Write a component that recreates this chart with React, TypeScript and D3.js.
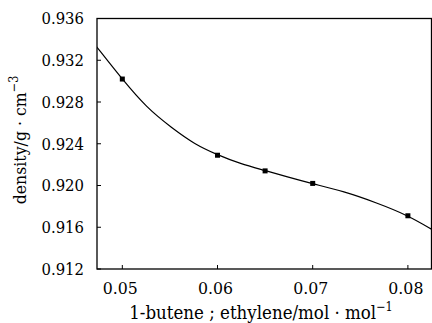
import React from "react";
import * as d3 from "d3";

const markerX = [0.05, 0.06, 0.065, 0.07, 0.08];
const markerY = [0.9302, 0.9229, 0.9214, 0.9202, 0.9171];

const curveX = [0.0473, 0.05, 0.05256, 0.05518, 0.05763, 0.06, 0.06239, 0.065, 0.06728, 0.07, 0.07323, 0.07674, 0.08, 0.0826];
const curveY = [0.93329, 0.93016, 0.92744, 0.92553, 0.92393, 0.92294, 0.92208, 0.92144, 0.92083, 0.92016, 0.91945, 0.91834, 0.91714, 0.91575];

const xTicks = [0.05, 0.06, 0.07, 0.08];
const yTicks = [0.912, 0.916, 0.92, 0.924, 0.928, 0.932, 0.936];

const W = 432, H = 323;
const left = 97, right = 431.5, top = 18.5, bottom = 269;
const FONT = "DejaVu Serif Condensed, DejaVu Serif, serif";

export default function App() {
  const x = d3.scaleLinear().domain([0.04734, 0.08248]).range([left, right]);
  const y = d3.scaleLinear().domain([0.912, 0.936]).range([bottom, top]);
  const line = d3.line<number>().x((d, i) => x(curveX[i])).y((d, i) => y(curveY[i])).curve(d3.curveBasis);
  return (
    <svg width={W} height={H} style={{ position: "absolute", left: 0, top: 0, background: "#fff" }} fontFamily={FONT}>
      <defs>
        <clipPath id="plot">
          <rect x={left} y={top} width={right - left} height={bottom - top} />
        </clipPath>
      </defs>
      <rect x={left} y={top} width={right - left} height={bottom - top} fill="none" stroke="#000" strokeWidth={1.3} />
      {yTicks.map((t) => (
        <g key={"y" + t}>
          <line x1={left} x2={left + 4} y1={y(t)} y2={y(t)} stroke="#000" strokeWidth={1} />
          <text x={84} y={y(t)} dy="0.36em" textAnchor="end" fontSize={16.5}>{d3.format(".3f")(t)}</text>
        </g>
      ))}
      {xTicks.map((t) => (
        <g key={"x" + t}>
          <line x1={x(t)} x2={x(t)} y1={bottom} y2={bottom - 4} stroke="#000" strokeWidth={1} />
          <text x={x(t) - 2} y={294} textAnchor="middle" fontSize={17.5}>{d3.format(".2f")(t)}</text>
        </g>
      ))}
      <path d={line(curveX) || ""} fill="none" stroke="#000" strokeWidth={1.2} clipPath="url(#plot)" />
      {markerX.map((v, i) => (
        <rect key={"m" + i} x={x(v) - 2.5} y={y(markerY[i]) - 2.5} width={5} height={5} fill="#000" />
      ))}
      <text x={261} y={319} textAnchor="middle" fontSize={18.5}>
        1-butene ; ethylene/mol · mol<tspan fontSize={12.5} dy={-8}>−1</tspan>
      </text>
      <text transform="translate(26,140) rotate(-90)" textAnchor="middle" fontSize={17.5}>
        density/g · cm<tspan fontSize={12.5} dy={-8}>−3</tspan>
      </text>
    </svg>
  );
}
